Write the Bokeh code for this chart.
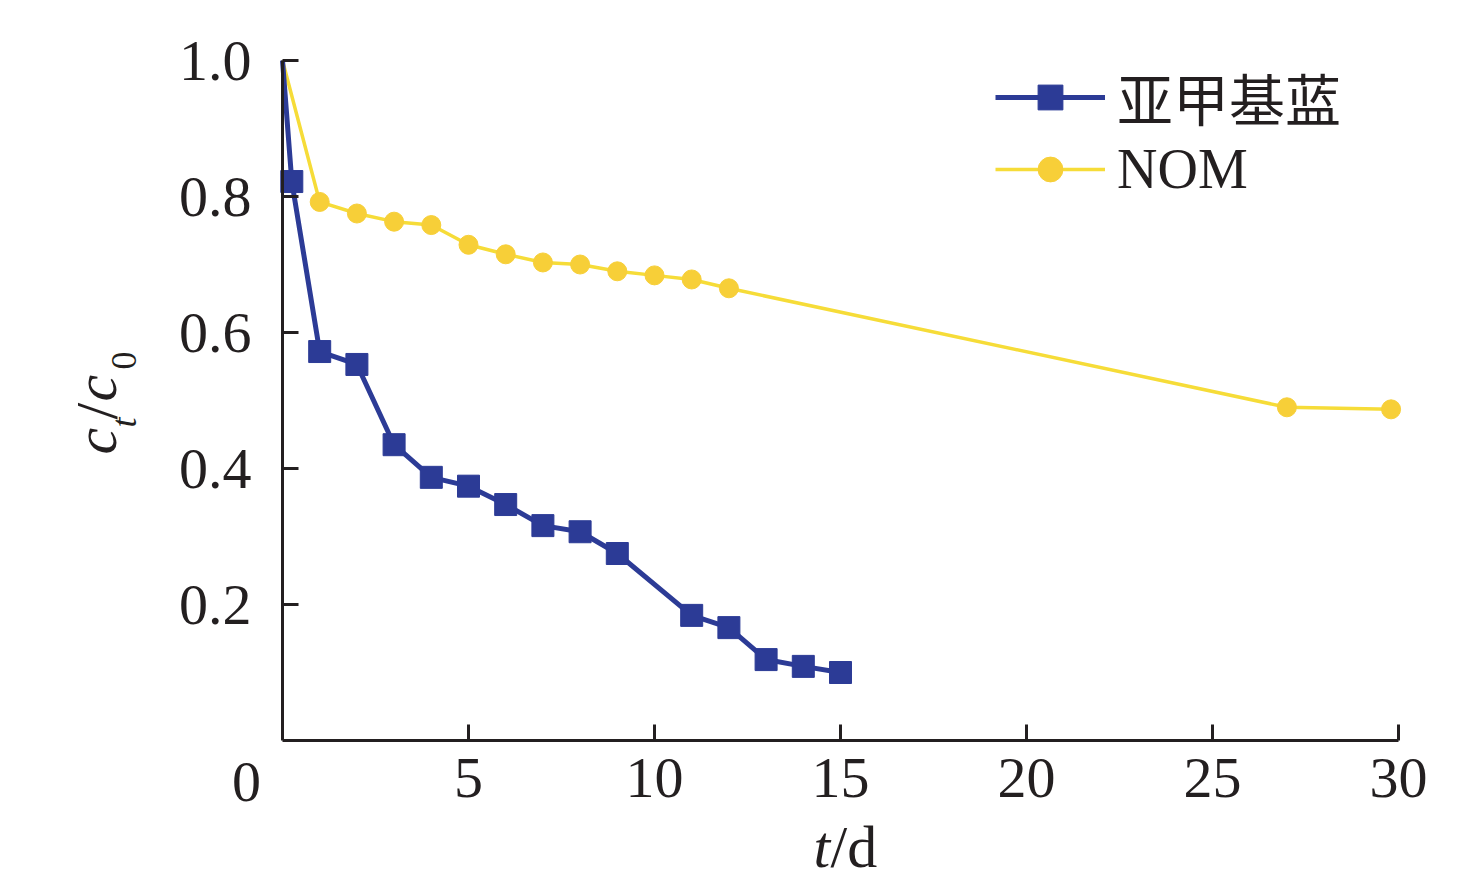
from bokeh.plotting import figure
from bokeh.models import Range1d, FixedTicker, Label, Legend, LegendItem
from bokeh.embed import file_html
from bokeh.resources import INLINE

# data
mb_t = [0, 0.25, 1, 2, 3, 4, 5, 6, 7, 8, 9, 11, 12, 13, 14, 15]
mb_c = [1.0, 0.822, 0.572, 0.553, 0.435, 0.387, 0.374, 0.347, 0.316, 0.307, 0.275,
        0.184, 0.166, 0.119, 0.109, 0.100]

nom_t = [0, 1, 2, 3, 4, 5, 6, 7, 8, 9, 10, 11, 12, 27, 29.8]
nom_c = [1.0, 0.792, 0.775, 0.763, 0.758, 0.729, 0.715, 0.703, 0.700, 0.690, 0.684,
         0.678, 0.665, 0.490, 0.487]

x_ticks = [5, 10, 15, 20, 25, 30]
y_ticks = [0.2, 0.4, 0.6, 0.8, 1.0]
y_tick_labels = ["0.2", "0.4", "0.6", "0.8", "1.0"]

BLUE = "#2c3b96"
YELLOW_LINE = "#f6dc38"
YELLOW_DOT = "#f7cf38"
INK = "#231f20"
SERIF = "Liberation Serif"

W, H = 1458, 879
# axes box in page pixels: x 0..30 -> 282..1398, y 0..1 -> 740..60
X0, X1, Y0, Y1 = 282, 1398, 740, 60
kx = (X1 - X0) / 30.0
ky = (Y0 - Y1) / 1.0

# the frame fills the whole canvas so texts round the axes are not clipped
p = figure(frame_width=W, frame_height=H, min_border=0,
           x_range=Range1d(-X0 / kx, 30 + (W - X1) / kx),
           y_range=Range1d(-(H - Y0) / ky, 1.0 + Y1 / ky),
           output_backend="svg", toolbar_location=None, tools="")
p.outline_line_color = None
p.grid.visible = False
p.background_fill_color = "white"
p.border_fill_color = "white"

for ax in (p.xaxis[0], p.yaxis[0]):
    ax.fixed_location = 0
    ax.axis_line_width = 3
    ax.axis_line_color = INK
    ax.major_tick_line_width = 3
    ax.major_tick_line_color = INK
    ax.major_tick_in = 16
    ax.major_tick_out = 0
    ax.minor_tick_line_color = None
    ax.major_label_text_font = SERIF
    ax.major_label_text_font_size = "58px"
    ax.major_label_text_color = INK

p.xaxis.bounds = (0, 30)
p.xaxis.ticker = FixedTicker(ticks=x_ticks)
p.xaxis.major_label_standoff = 18
p.yaxis.bounds = (0, 1.0)
p.yaxis.ticker = FixedTicker(ticks=y_ticks)
p.yaxis.major_label_overrides = dict(zip(y_ticks, y_tick_labels))
p.yaxis.major_label_standoff = 31

nom_line = p.line(nom_t, nom_c, line_color=YELLOW_LINE, line_width=3.5)
nom_dots = p.scatter(nom_t[1:], nom_c[1:], marker="circle", size=19,
                     fill_color=YELLOW_DOT, line_color=YELLOW_DOT)
mb_line = p.line(mb_t, mb_c, line_color=BLUE, line_width=5)
mb_sq = p.scatter(mb_t[1:], mb_c[1:], marker="square", size=22,
                  fill_color=BLUE, line_color=BLUE)

legend = Legend(items=[LegendItem(label="亚甲基蓝", renderers=[mb_line, mb_sq]),
                       LegendItem(label="NOM", renderers=[nom_line, nom_dots])],
                location=(995, H - 201), padding=0, spacing=-10,
                glyph_width=110, glyph_height=62, label_height=62,
                label_standoff=12, border_line_color=None,
                background_fill_alpha=0,
                label_text_font="Liberation Serif, Noto Sans CJK SC",
                label_text_font_size="56px", label_text_color=INK)
p.add_layout(legend)

# page pixels -> data units
def dx(px):
    return (px - X0) / kx

def dy(py):
    return (Y0 - py) / ky

def text(px, py, s, size, style="normal", align="left", angle=0):
    p.add_layout(Label(x=dx(px), y=dy(py), text=s, angle=angle, angle_units="deg",
                       text_font=SERIF, text_font_style=style, text_font_size=size,
                       text_align=align, text_baseline="alphabetic",
                       text_color=INK))

# shared origin label
text(246, 781, "0", "58px", align="center")

# x axis title t/d
text(813, 846, "t", "60px", style="italic")
text(830, 846, "/d", "60px")

# y axis title c_t/c_0, rotated
text(95, 454, "c", "60px", style="italic", angle=90)
text(123, 427, "t", "36px", style="italic", angle=90)
text(96, 419, "/", "60px", angle=90)
text(95, 401, "c", "60px", style="italic", angle=90)
text(123, 369, "0", "36px", angle=90)

open("out.html", "w").write(file_html(p, INLINE))
